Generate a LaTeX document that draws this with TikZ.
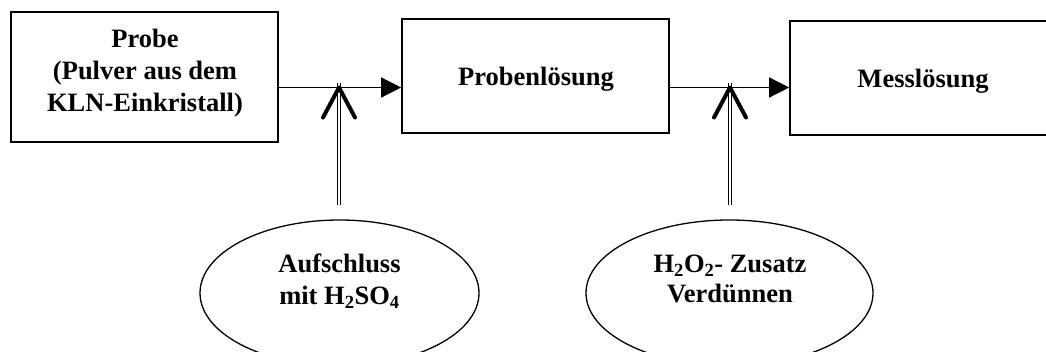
\documentclass[tikz,border=0pt]{standalone}
\usepackage{fontspec}
\setmainfont{Liberation Serif}
\usetikzlibrary{arrows.meta,shapes.geometric}
\begin{document}
\begin{tikzpicture}[x=1pt,y=-1pt,
  boxstyle/.style={draw,line width=1.6pt,rectangle,inner sep=0pt},
  ovalstyle/.style={draw,line width=1.3pt,ellipse,inner sep=0pt},
  txt/.style={font=\fontsize{26.5}{30}\selectfont\bfseries,inner sep=0pt,anchor=base},
  flow/.style={line width=1.4pt,-{Triangle[length=20pt,width=20pt]}},
  feed/.style={double,double distance=2.6pt,line width=1pt},
  openhead/.style={line width=4pt,line cap=round,line join=round}]
\useasboundingbox (0,0) rectangle (1046,352);
\clip (0,0) rectangle (1046,352);
% boxes
\node[boxstyle,minimum width=267pt,minimum height=130pt] (box1) at (144.5,77) {};
\node[boxstyle,minimum width=267pt,minimum height=114pt] (box2) at (535.5,76) {};
\node[boxstyle,minimum width=266pt,minimum height=114pt] (box3) at (923,78) {};
% ellipses
\node[ovalstyle,minimum width=279pt,minimum height=146pt] (ell1) at (339.5,293) {};
\node[ovalstyle,minimum width=287pt,minimum height=146pt] (ell2) at (729.5,293) {};
% texts
\node[txt] (t1a) at (145,48) {Probe};
\node[txt] (t1b) at (145,80) {(Pulver aus dem};
\node[txt] (t1c) at (145,112) {KLN-Einkristall)};
\node[txt] (t2) at (536,86) {Probenlösung};
\node[txt] (t3) at (923,88) {Messlösung};
\node[txt] (t4a) at (339.5,273) {Aufschluss};
\node[txt] (t4b) at (339.5,305) {mit H\textsubscript{2}SO\textsubscript{4}};
\node[txt] (t5a) at (730,273) {H\textsubscript{2}O\textsubscript{2}- Zusatz};
\node[txt] (t5b) at (730,303) {Verdünnen};
% junctions
\coordinate (j1) at (339,87.5);
\coordinate (j2) at (730,87.5);
\coordinate (f1) at (339,205);
\coordinate (f2) at (730,205);
% main flow
\draw[flow] (box1.east |- j1) -- (box2.west |- j1);
\draw[flow] (box2.east |- j2) -- (box3.west |- j2);
% feeds
\draw[feed] (f1) -- ([yshift=4pt]j1);
\draw[feed] (f2) -- ([yshift=4pt]j2);
\draw[openhead] ([shift={(-16,30)}]j1) -- (j1) -- ([shift={(16,30)}]j1);
\draw[openhead] ([shift={(-16,30)}]j2) -- (j2) -- ([shift={(16,30)}]j2);
\end{tikzpicture}
\end{document}
